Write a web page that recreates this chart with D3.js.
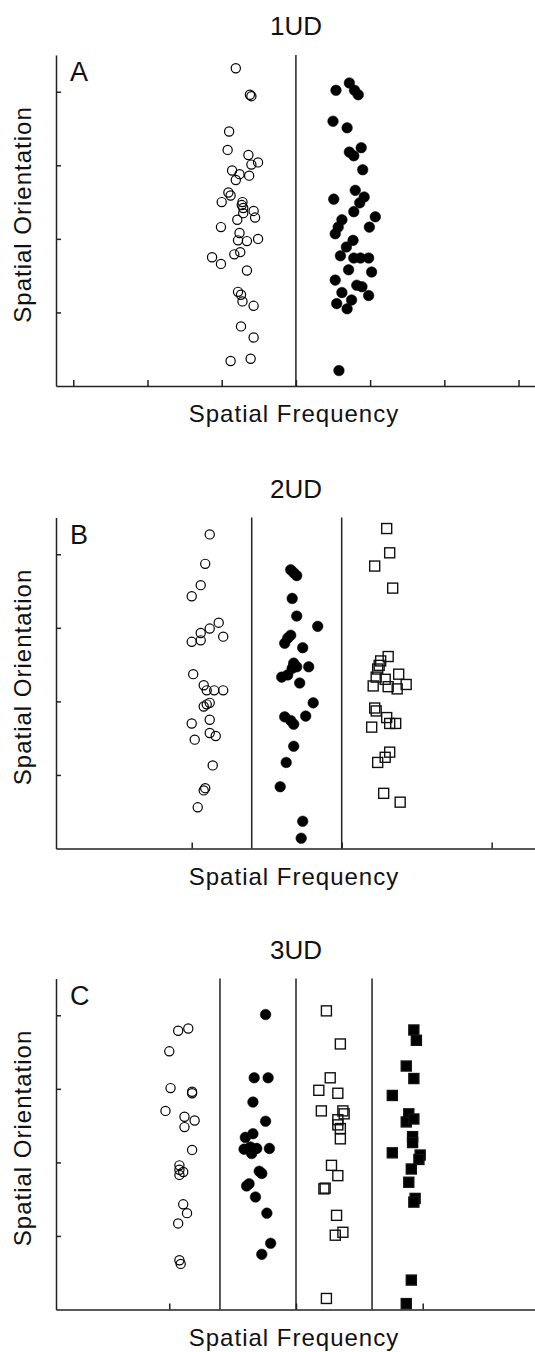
<!DOCTYPE html>
<html>
<head>
<meta charset="utf-8">
<script src="https://cdn.jsdelivr.net/npm/d3@7"></script>
<style>
  body { margin: 0; background: #fff; }
  text { font-family: "Liberation Sans", Arial, sans-serif; fill: #111; }
</style>
</head>
<body>
<div id="viz"></div>
<script>
var width = 535;
var height = 1352;

// panel titles / letters
var titles = ["1UD", "2UD", "3UD"];
var letters = ["A", "B", "C"];

// x tick values and condition dividers for each panel
var xTicksA = [1, 2, 3, 4, 5, 6, 7];
var xTicksB = [1, 2, 3];
var xTicksC = [1, 2, 3];
var dividersA = [4];
var dividersB = [1.4, 2];
var dividersC = [1.4, 2, 2.6];
var yTicks = [1, 2, 3, 4];

// panel A (1UD) : [spatial frequency, orientation]
var aOpen = [[3.19,4.32],[3.38,3.96],[3.40,3.94],[3.10,3.46],[3.08,3.21],[3.36,3.14],[3.49,3.04],[3.40,3.01],
  [3.14,2.93],[3.24,2.88],[3.37,2.86],[3.19,2.80],[3.09,2.63],[3.12,2.59],[3.00,2.50],[3.28,2.50],[3.27,2.46],
  [3.29,2.42],[3.43,2.38],[3.29,2.35],[3.45,2.29],[3.21,2.26],[2.99,2.16],[3.24,2.08],[3.22,1.98],[3.34,1.97],
  [3.49,2.00],[3.25,1.82],[3.17,1.79],[2.87,1.75],[2.99,1.66],[3.34,1.57],[3.22,1.28],[3.26,1.24],[3.28,1.15],
  [3.43,1.09],[3.26,0.81],[3.43,0.66],[3.12,0.34],[3.39,0.37]];
var aFilled = [[4.72,4.12],[4.54,4.02],[4.79,4.02],[4.84,3.96],[4.50,3.60],[4.69,3.51],[4.88,3.24],[4.72,3.18],
  [4.78,3.13],[4.90,2.94],[4.80,2.66],[4.51,2.54],[4.92,2.57],[4.86,2.49],[4.78,2.37],[5.07,2.30],[4.99,2.16],
  [4.62,2.26],[4.57,2.16],[4.53,2.07],[4.77,1.98],[4.68,1.89],[4.60,1.77],[4.78,1.74],[4.87,1.74],[4.98,1.74],
  [4.71,1.58],[5.02,1.55],[4.53,1.44],[4.82,1.37],[4.89,1.35],[4.98,1.23],[4.62,1.27],[4.75,1.17],[4.55,1.12],
  [4.69,1.05],[4.58,0.21]];

// panel B (2UD)
var bOpen = [[1.12,4.27],[1.09,3.87],[1.06,3.58],[1.00,3.43],[1.18,3.07],[1.12,2.99],[1.06,2.93],[1.21,2.88],
  [1.00,2.81],[1.06,2.83],[1.01,2.37],[1.08,2.22],[1.10,2.15],[1.15,2.15],[1.21,2.15],[1.12,1.98],[1.10,1.96],
  [1.08,1.93],[1.00,1.70],[1.12,1.75],[1.12,1.57],[1.16,1.53],[1.02,1.48],[1.14,1.13],[1.09,0.82],[1.08,0.79],
  [1.04,0.56]];
var bFilled = [[1.66,3.79],[1.68,3.75],[1.70,3.71],[1.67,3.40],[1.70,3.16],[1.84,3.02],[1.66,2.90],[1.64,2.86],
  [1.62,2.79],[1.74,2.73],[1.68,2.52],[1.70,2.47],[1.67,2.45],[1.78,2.47],[1.60,2.33],[1.64,2.36],[1.72,2.25],
  [1.81,1.98],[1.62,1.79],[1.66,1.74],[1.68,1.69],[1.76,1.80],[1.68,1.39],[1.63,1.17],[1.59,0.84],[1.74,0.37],
  [1.73,0.14]];
var bSquare = [[2.30,4.35],[2.32,4.02],[2.22,3.84],[2.34,3.54],[2.31,2.61],[2.26,2.55],[2.25,2.49],[2.24,2.44],
  [2.38,2.37],[2.23,2.33],[2.29,2.30],[2.21,2.21],[2.31,2.20],[2.37,2.17],[2.43,2.23],[2.22,1.91],[2.23,1.87],
  [2.30,1.78],[2.20,1.65],[2.32,1.70],[2.36,1.70],[2.32,1.31],[2.29,1.24],[2.24,1.17],[2.28,0.75],[2.39,0.63]];

// panel C (3UD)
var cOpen = [[1.07,3.79],[1.15,3.82],[1.00,3.51],[1.01,3.01],[1.18,2.96],[1.18,2.94],[0.97,2.70],[1.12,2.62],
  [1.20,2.57],[1.12,2.48],[1.18,2.17],[1.08,1.96],[1.08,1.90],[1.11,1.87],[1.08,1.83],[1.11,1.43],[1.14,1.31],
  [1.07,1.17],[1.08,0.67],[1.09,0.62]];
var cFilled = [[1.76,4.01],[1.67,3.15],[1.78,3.15],[1.66,2.82],[1.76,2.56],[1.66,2.39],[1.60,2.34],[1.59,2.18],
  [1.64,2.21],[1.65,2.12],[1.69,2.19],[1.79,2.19],[1.71,1.88],[1.73,1.85],[1.63,1.71],[1.61,1.68],[1.68,1.53],
  [1.77,1.31],[1.80,0.90],[1.73,0.75]];
var cSquare = [[2.24,4.06],[2.35,3.61],[2.27,3.15],[2.18,2.98],[2.33,2.94],[2.20,2.70],[2.37,2.70],[2.38,2.66],
  [2.33,2.58],[2.33,2.51],[2.35,2.46],[2.35,2.32],[2.28,1.96],[2.33,1.82],[2.23,1.65],[2.22,1.64],[2.32,1.28],
  [2.37,1.05],[2.31,1.01],[2.24,0.15]];
var cFilledSquare = [[2.93,3.80],[2.95,3.66],[2.87,3.31],[2.93,3.14],[2.76,2.91],[2.89,2.66],[2.87,2.55],
  [2.93,2.59],[2.92,2.35],[2.92,2.27],[2.76,2.13],[2.98,2.10],[2.97,2.04],[2.91,1.91],[2.89,1.73],[2.94,1.51],
  [2.93,1.46],[2.91,0.40],[2.87,0.08]];

var svg = d3.select("#viz")
    .append("svg")
    .attr("width", width)
    .attr("height", height);

svg.append("rect").attr("width", width).attr("height", height).attr("fill", "#fff");

var left = 56, right = 535, plotH = 331;

var panels = [
  { top: 55, xDomain: [0.767, 7.222], ticks: xTicksA, dividers: dividersA,
    series: [{ data: aOpen, type: "open" }, { data: aFilled, type: "filled" }] },
  { top: 517.5, xDomain: [0.095, 3.289], ticks: xTicksB, dividers: dividersB,
    series: [{ data: bOpen, type: "open" }, { data: bFilled, type: "filled" }, { data: bSquare, type: "square" }] },
  { top: 978.5, xDomain: [0.106, 3.886], ticks: xTicksC, dividers: dividersC,
    series: [{ data: cOpen, type: "open" }, { data: cFilled, type: "filled" },
             { data: cSquare, type: "square" }, { data: cFilledSquare, type: "fsquare" }] }
];

panels.forEach(function(p, i) {
  var bottom = p.top + plotH;
  var x = d3.scaleLinear().domain(p.xDomain).range([left, right]);
  var y = d3.scaleLinear().domain([0, 4.5]).range([bottom, p.top]);
  var g = svg.append("g");

  // title and panel letter
  g.append("text")
      .attr("x", 296).attr("y", p.top - 20)
      .attr("text-anchor", "middle")
      .style("font-size", "26px")
      .text(titles[i]);
  g.append("text")
      .attr("x", 70).attr("y", p.top + 26)
      .style("font-size", "27px")
      .text(letters[i]);

  // axes
  g.append("g")
      .attr("transform", "translate(0," + bottom + ")")
      .call(d3.axisBottom(x).tickValues(p.ticks).tickSizeInner(-6).tickSizeOuter(0).tickFormat(""));
  g.append("g")
      .attr("transform", "translate(" + left + ",0)")
      .call(d3.axisLeft(y).tickValues(yTicks).tickSizeInner(-5).tickSizeOuter(0).tickFormat(""));
  g.selectAll(".domain, .tick line").attr("stroke", "#222").attr("stroke-width", 1.5);

  // condition dividers
  g.selectAll("line.div")
      .data(p.dividers)
      .enter()
      .append("line")
      .attr("class", "div")
      .attr("x1", function(d) { return x(d); })
      .attr("x2", function(d) { return x(d); })
      .attr("y1", p.top)
      .attr("y2", bottom)
      .attr("stroke", "#222")
      .attr("stroke-width", 1.5);

  // axis labels
  g.append("text")
      .attr("x", 294).attr("y", bottom + 36)
      .attr("text-anchor", "middle")
      .style("font-size", "24px")
      .style("letter-spacing", "1px")
      .text("Spatial Frequency");
  g.append("text")
      .attr("transform", "translate(31," + (p.top + plotH / 2 - 6) + ") rotate(-90)")
      .attr("text-anchor", "middle")
      .style("font-size", "24px")
      .style("letter-spacing", "1px")
      .text("Spatial Orientation");

  // points
  p.series.forEach(function(s) {
    var sel = g.append("g").selectAll("path")
        .data(s.data)
        .enter();
    if (s.type === "open" || s.type === "filled") {
      sel.append("circle")
          .attr("cx", function(d) { return x(d[0]); })
          .attr("cy", function(d) { return y(d[1]); })
          .attr("r", s.type === "open" ? 4.6 : 5.3)
          .attr("fill", s.type === "open" ? "none" : "#000")
          .attr("stroke", "#000")
          .attr("stroke-width", s.type === "open" ? 1.2 : 0.5);
    } else {
      sel.append("rect")
          .attr("x", function(d) { return x(d[0]) - 5; })
          .attr("y", function(d) { return y(d[1]) - 5; })
          .attr("width", 10)
          .attr("height", 10)
          .attr("fill", s.type === "square" ? "none" : "#000")
          .attr("stroke", "#111")
          .attr("stroke-width", 1.4);
    }
  });
});
</script>
</body>
</html>
